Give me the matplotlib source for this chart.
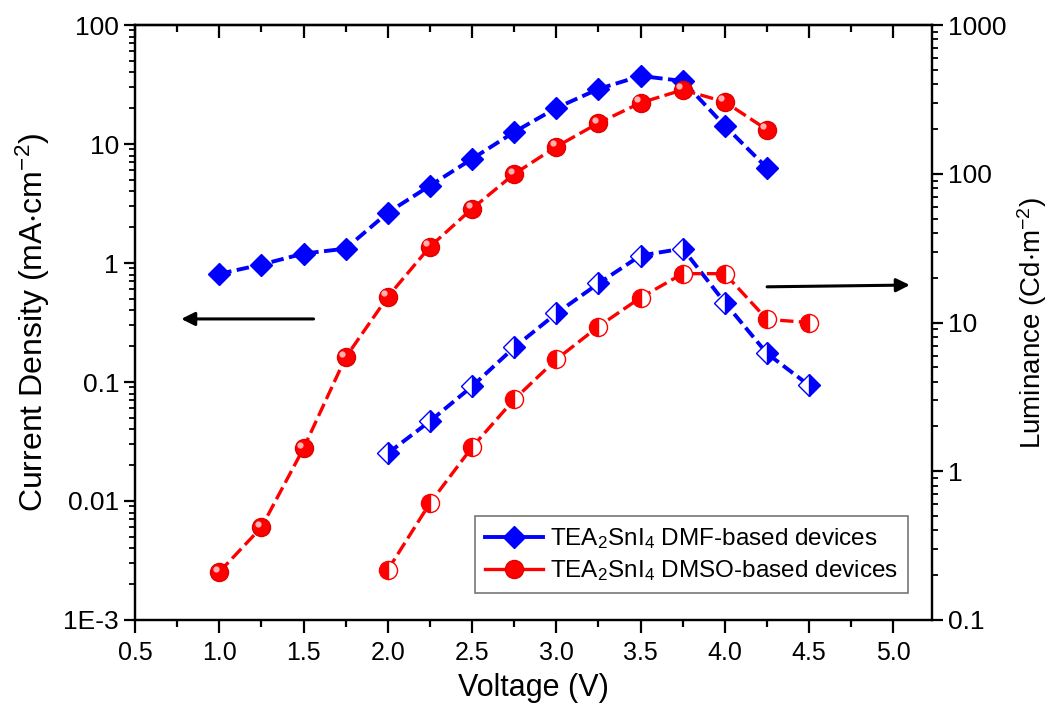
import numpy as np
import matplotlib
matplotlib.use('Agg')
import matplotlib.pyplot as plt
from matplotlib.ticker import MultipleLocator, FixedLocator, FixedFormatter, LogLocator, NullFormatter
from matplotlib.lines import Line2D
import matplotlib.transforms as mtransforms

plt.rcParams['font.family'] = ['Liberation Sans', 'DejaVu Sans']
plt.rcParams['mathtext.fontset'] = 'custom'
plt.rcParams['mathtext.rm'] = 'Liberation Sans'

# current density (left axis), mA/cm2
v_j = [1.0, 1.25, 1.5, 1.75, 2.0, 2.25, 2.5, 2.75, 3.0, 3.25, 3.5, 3.75, 4.0, 4.25]
j_dmf = [0.81, 0.97, 1.2, 1.32, 2.65, 4.46, 7.5, 12.6, 20.1, 29.0, 37.3, 33.9, 14.2, 6.3]
j_dmso = [0.00253, 0.006, 0.0277, 0.161, 0.52, 1.37, 2.86, 5.6, 9.5, 15.0, 22.2, 28.5, 22.6, 13.2]

# luminance (right axis), Cd/m2
v_l = [2.0, 2.25, 2.5, 2.75, 3.0, 3.25, 3.5, 3.75, 4.0, 4.25, 4.5]
l_dmf = [1.32, 2.17, 3.72, 6.8, 11.5, 18.3, 28.2, 31.4, 13.6, 6.2, 3.78]
l_dmso = [0.217, 0.61, 1.45, 3.04, 5.65, 9.4, 14.7, 21.3, 21.3, 10.5, 10.0]

left_ticks = [1e-3, 1e-2, 1e-1, 1, 10, 100]
left_labels = ['1E-3', '0.01', '0.1', '1', '10', '100']
right_ticks = [0.1, 1, 10, 100, 1000]
right_labels = ['0.1', '1', '10', '100', '1000']

# arrows (axes fraction): start, end
arrow_left = [(0.224, 0.506), (0.058, 0.506)]
arrow_right = [(0.793, 0.560), (0.972, 0.563)]

blue = '#0000FF'
red = '#FF0000'

fig = plt.figure(figsize=(10.53, 7.11), dpi=100)
ax = fig.add_axes([0.1282, 0.128, 0.757, 0.8368])
ax2 = ax.twinx()

# left axis curves
ax.plot(v_j, j_dmf, color=blue, lw=2.8, dashes=(3.2, 1.4), marker='D', ms=11.5,
        mfc=blue, mec=blue, zorder=3)
ax.plot(v_j, j_dmso, color=red, lw=2.4, dashes=(4.0, 1.6), marker='o', ms=13,
        mfc=red, mec='#E00000', zorder=3)
# sphere highlight
hl = mtransforms.offset_copy(ax.transData, fig=fig, x=-2.5, y=2.5, units='points')
ax.plot(v_j, j_dmso, ls='none', marker='o', ms=4.5, mfc='#FFB0B0', mec='none',
        transform=hl, zorder=4)

# right axis curves
ax2.plot(v_l, l_dmf, color=blue, lw=2.8, dashes=(3.2, 1.4), marker='D', ms=11.5,
         fillstyle='right', mfc=blue, mfcalt='white', mec=blue, mew=1.0, zorder=3)
ax2.plot(v_l, l_dmso, color=red, lw=2.4, dashes=(4.0, 1.6), marker='o', ms=13,
         fillstyle='left', mfc=red, mfcalt='white', mec=red, mew=1.0, zorder=3)

ax.set_yscale('log')
ax2.set_yscale('log')
ax.set_xlim(0.5, 5.23)
ax.set_ylim(1e-3, 100)
ax2.set_ylim(0.1, 1000)

ax.set_xticks([0.5, 1.0, 1.5, 2.0, 2.5, 3.0, 3.5, 4.0, 4.5, 5.0])
ax.set_xticklabels(['0.5', '1.0', '1.5', '2.0', '2.5', '3.0', '3.5', '4.0', '4.5', '5.0'])
ax.xaxis.set_minor_locator(MultipleLocator(0.25))

ax.yaxis.set_major_locator(FixedLocator(left_ticks))
ax.yaxis.set_major_formatter(FixedFormatter(left_labels))
ax.yaxis.set_minor_locator(LogLocator(base=10, subs=np.arange(2, 10)))
ax.yaxis.set_minor_formatter(NullFormatter())
ax2.yaxis.set_major_locator(FixedLocator(right_ticks))
ax2.yaxis.set_major_formatter(FixedFormatter(right_labels))
ax2.yaxis.set_minor_locator(LogLocator(base=10, subs=np.arange(2, 10)))
ax2.yaxis.set_minor_formatter(NullFormatter())

for a in (ax, ax2):
    for s in a.spines.values():
        s.set_linewidth(1.6)

ax.tick_params(axis='x', which='both', bottom=True, top=False, labelsize=18, width=1.6, pad=6)
ax.tick_params(axis='x', which='major', length=9, direction='out')
ax.tick_params(axis='x', which='minor', length=5, direction='out')
ax.tick_params(axis='y', which='major', left=True, right=False, length=8, width=1.6,
               direction='out', labelsize=19)
ax.tick_params(axis='y', which='minor', left=True, right=False, length=4, width=1.3,
               direction='out')
ax2.tick_params(axis='y', which='major', right=True, length=8, width=1.6,
                direction='out', labelsize=19)
ax2.tick_params(axis='y', which='minor', right=True, length=4, width=1.3, direction='out')

# top ticks point inward
sec = ax.secondary_xaxis('top')
sec.xaxis.set_major_locator(MultipleLocator(0.5))
sec.xaxis.set_minor_locator(MultipleLocator(0.25))
sec.tick_params(which='major', direction='in', length=9, width=1.6, labeltop=False)
sec.tick_params(which='minor', direction='in', length=5, width=1.6)
sec.spines['top'].set_linewidth(1.6)

ax.set_xlabel('Voltage (V)', fontsize=22, labelpad=6)
ax.set_ylabel('Current Density $\\mathregular{(mA{\\cdot}cm^{-2})}$', fontsize=23, labelpad=8)
ax2.set_ylabel('Luminance $\\mathregular{(Cd{\\cdot}m^{-2})}$', fontsize=20, labelpad=6)

for start, end in (arrow_left, arrow_right):
    ax.annotate('', xy=end, xytext=start, xycoords='axes fraction', textcoords='axes fraction',
                arrowprops=dict(arrowstyle='-|>', lw=2.2, color='black', mutation_scale=20,
                                shrinkA=0, shrinkB=0))

handles = [
    Line2D([], [], color=blue, lw=2.8, marker='D', ms=11.5, mfc=blue, mec=blue),
    Line2D([], [], color=red, lw=2.4, marker='o', ms=13, mfc=red, mec='#E00000'),
]
labels = ['$\\mathregular{TEA_2SnI_4}$ DMF-based devices',
          '$\\mathregular{TEA_2SnI_4}$ DMSO-based devices']
leg = ax2.legend(handles, labels, loc='lower right', bbox_to_anchor=(0.985, 0.025),
                 fontsize=17.5, frameon=True, fancybox=False, edgecolor='#555555',
                 handlelength=2.4, handletextpad=0.3, borderpad=0.4, labelspacing=0.3)
leg.get_frame().set_linewidth(1.2)

fig.savefig('out.png', dpi=100)
